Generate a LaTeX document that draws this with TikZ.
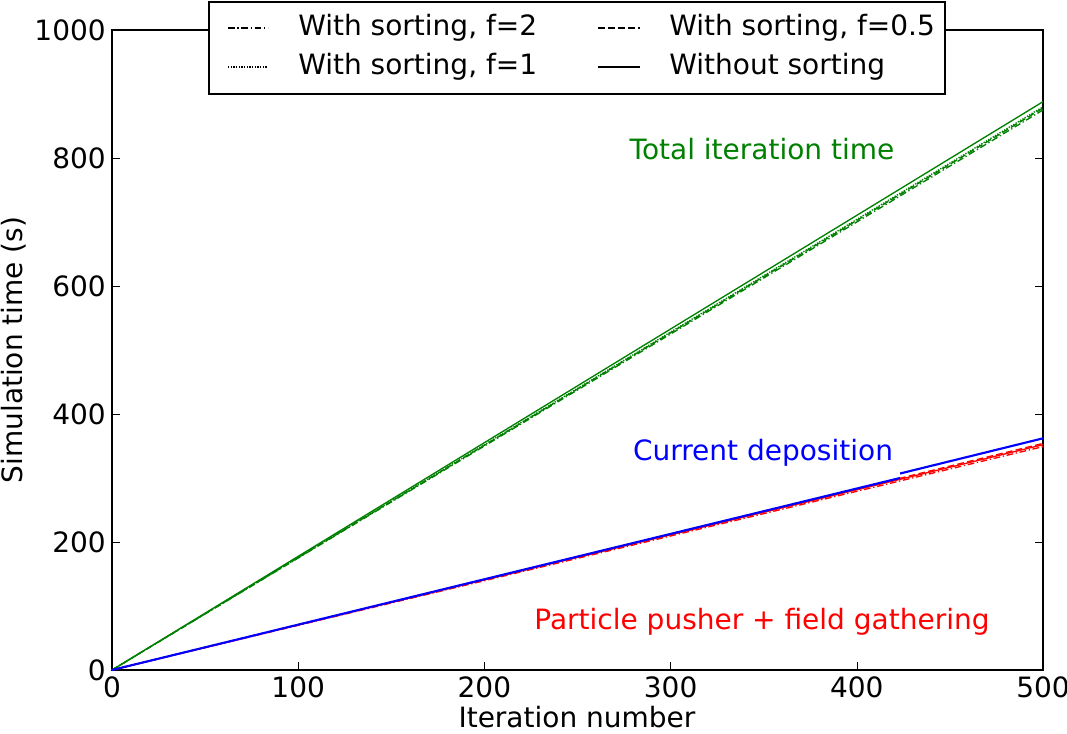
\documentclass[tikz,border=0pt]{standalone}
\usepackage{fontspec}
\setmainfont{DejaVu Sans}
\begin{document}
\begin{tikzpicture}[x=0.75pt,y=0.75pt,
  lab/.style={font=\fontsize{21}{24}\selectfont, inner sep=0pt},
  dd/.style={dash pattern=on 5pt off 2.5pt},
  dt/.style={dash pattern=on 1pt off 1pt},
  dsd/.style={dash pattern=on 5pt off 2pt on 1pt off 2pt},
  pl/.style={line width=1pt}]
\useasboundingbox (0,0) rectangle (1067,733);
\draw[line width=0.8pt] (112,63) rectangle (1043,703);
\foreach \v/\l in {0/0,100/100,200/200,300/300,400/400,500/500}{
  \draw ({112+\v*1.862},63) -- ++(0,8);
  \draw ({112+\v*1.862},703) -- ++(0,-8);
  \node[lab,anchor=base] at ({112+\v*1.862},36) {\l};}
\foreach \v in {0,200,400,600,800,1000}{
  \draw (112,{63+\v*0.64}) -- ++(8,0);
  \draw (1043,{63+\v*0.64}) -- ++(-8,0);
  \node[lab,anchor=east] at (106,{63+\v*0.64}) {\v};}
\node[lab,anchor=base] (xl) at (577,6) {Iteration number};
\node[lab,rotate=90] (yl) at (14,383) {Simulation time (s)};
% green
\draw[pl,green!50!black] (112,63) -- (1043,{63+888*0.64});
\draw[pl,green!50!black,dt] (112,63) -- (1043,{63+880*0.64});
\draw[pl,green!50!black,dd] (112,63) -- (1043,{63+878*0.64});
\draw[pl,green!50!black,dsd] (112,63) -- (1043,{63+875*0.64});
% red
\draw[pl,red] (112,63) -- (1043,{63+352*0.64});
\draw[pl,red,dd] (112,63) -- (1043,{63+354*0.64});
\draw[pl,red,dsd] (112,63) -- (1043,{63+349*0.64});
% blue
\draw[line width=1.6pt,blue] (112,63) -- (900,{63+300*0.64});
\draw[line width=1.6pt,blue] (900,{63+307*0.64}) -- (1043,{63+362*0.64});
\node[lab,text=green!50!black] (t1) at (762,584) {Total iteration time};
\node[lab,text=blue] (t2) at (763,280) {Current deposition};
\node[lab,text=red] (t3) at (762,111) {Particle pusher + field gathering};
% legend
\draw[line width=0.8pt,fill=white] (209,639) rectangle (945,731);
\draw[pl,dsd] (228,705) -- (268,705); \node[lab,anchor=west] (l1) at (298,705) {With sorting, f=2};
\draw[pl,dt] (228,666) -- (268,666); \node[lab,anchor=west] (l2) at (298,666) {With sorting, f=1};
\draw[pl,dd] (598,705) -- (640,705); \node[lab,anchor=west] (l3) at (669,705) {With sorting, f=0.5};
\draw[pl] (598,666) -- (640,666); \node[lab,anchor=west] (l4) at (669,666) {Without sorting};
\end{tikzpicture}
\end{document}
